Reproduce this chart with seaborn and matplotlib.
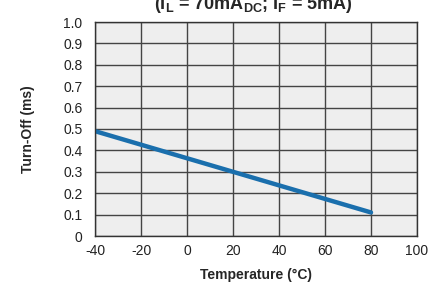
import matplotlib
matplotlib.use("Agg")
import matplotlib.pyplot as plt
import seaborn as sns
import pandas as pd

# data
temperature = [-40, 80]
turn_off = [0.49, 0.11]

x_ticks = [-40, -20, 0, 20, 40, 60, 80, 100]
y_ticks = [0, 0.1, 0.2, 0.3, 0.4, 0.5, 0.6, 0.7, 0.8, 0.9, 1.0]
y_labels = ['0', '0.1', '0.2', '0.3', '0.4', '0.5', '0.6', '0.7', '0.8', '0.9', '1.0']

df = pd.DataFrame({'Temperature': temperature, 'TurnOff': turn_off})

sns.set_style('whitegrid')
plt.rcParams['font.family'] = ['Liberation Sans', 'DejaVu Sans']
plt.rcParams['axes.unicode_minus'] = False
plt.rcParams['mathtext.fontset'] = 'custom'
plt.rcParams['mathtext.rm'] = 'Liberation Sans:bold'
plt.rcParams['mathtext.bf'] = 'Liberation Sans:bold'

fig = plt.figure(figsize=(4.45, 2.85), dpi=100)
ax = fig.add_axes([95 / 445, 1 - 236 / 285, (417 - 95) / 445, (236 - 22) / 285])
ax.set_facecolor('#eeeeee')

sns.lineplot(data=df, x='Temperature', y='TurnOff', ax=ax, color='#1a6fad', linewidth=3.2)

ax.set_xlim(-40, 100)
ax.set_ylim(0, 1.0)
ax.set_xticks(x_ticks)
ax.set_yticks(y_ticks)
ax.set_yticklabels(y_labels)
ax.tick_params(length=0, labelsize=10, colors='#222222')
ax.tick_params(axis='y', pad=9)
ax.tick_params(axis='x', pad=6)
ax.grid(True, color='#444444', linewidth=1)
for s in ax.spines.values():
    s.set_color('#333333')
    s.set_linewidth(1)

ax.set_xlabel('Temperature (°C)', fontsize=10, fontweight='bold', labelpad=7)
ax.set_ylabel('Turn-Off (ms)', fontsize=10, fontweight='bold', labelpad=20)

fig.text(0.57, 1 - 9 / 285, r'(I$_\mathbf{L}$ = 70mA$_\mathbf{DC}$; I$_\mathbf{F}$ = 5mA)',
         ha='center', va='baseline', fontsize=13, fontweight='bold')

fig.savefig('out.png', dpi=100)
